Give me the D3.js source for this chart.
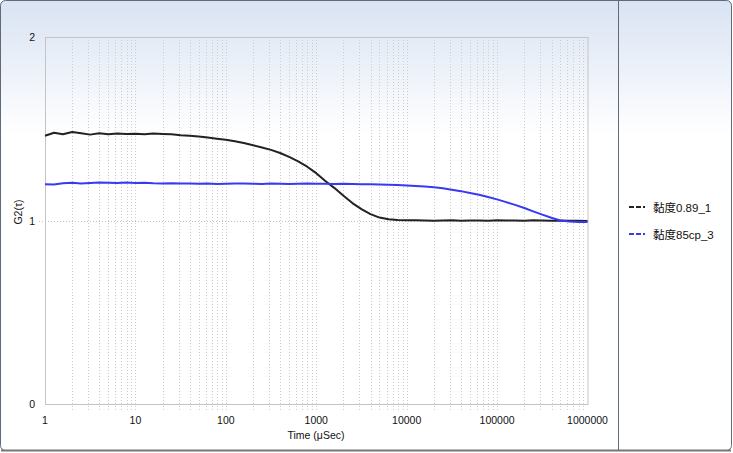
<!DOCTYPE html>
<html><head><meta charset="utf-8">
<script src="https://cdn.jsdelivr.net/npm/d3@7"></script>
<style>body{margin:0;background:#fff;}svg{display:block;}</style>
</head><body><svg id="c" width="733" height="453"></svg>
<script>
const times = [1,1.26,1.58,2,2.51,3.16,3.98,5.01,6.31,7.94,
10,12.6,15.8,20,25.1,31.6,39.8,50.1,63.1,79.4,
100,126,158,200,251,316,398,501,631,794,
1000,1260,1580,2000,2510,3160,3980,5010,6310,7940,
10000,12600,15800,20000,25100,31600,39800,50100,63100,79400,
100000,126000,158000,200000,251000,316000,398000,501000,631000,794000,
1000000];
const series1 = [1.462,1.478,1.470,1.482,1.475,1.468,1.476,1.470,1.474,1.471,
1.473,1.470,1.474,1.472,1.470,1.465,1.462,1.458,1.452,1.446,
1.440,1.432,1.422,1.410,1.398,1.385,1.368,1.347,1.322,1.293,
1.258,1.215,1.178,1.135,1.095,1.062,1.035,1.016,1.007,1.003,
1.001,1.001,1.000,0.999,1.000,1.001,0.999,1.000,1.000,0.998,
1.001,1.000,1.000,0.999,1.001,1.000,0.999,1.000,0.999,0.998,
0.997];
const series2 = [1.198,1.196,1.203,1.206,1.202,1.205,1.207,1.206,1.204,1.207,
1.205,1.206,1.203,1.202,1.203,1.201,1.202,1.200,1.201,1.199,
1.200,1.202,1.201,1.200,1.199,1.201,1.200,1.199,1.200,1.201,
1.200,1.200,1.199,1.200,1.199,1.198,1.197,1.196,1.195,1.193,
1.191,1.188,1.185,1.181,1.176,1.168,1.160,1.150,1.140,1.128,
1.115,1.100,1.085,1.068,1.050,1.032,1.015,1.000,0.994,0.992,
0.992];
const seriesNames = ["黏度0.89_1","黏度85cp_3"];
const seriesColors = ["#222222","#3838f5"];
const xTicks = [1,10,100,1000,10000,100000,1000000];
const yTicks = [0,1,2];

const svg = d3.select("#c");
const defs = svg.append("defs");
const g = defs.append("linearGradient").attr("id","bg").attr("x1",0).attr("y1",0).attr("x2",0).attr("y2",1);
g.append("stop").attr("offset","0").attr("stop-color","#d9e3f3");
g.append("stop").attr("offset","0.3").attr("stop-color","#ffffff");
g.append("stop").attr("offset","1").attr("stop-color","#ffffff");

svg.append("rect").attr("x",0.5).attr("y",0.5).attr("width",731).attr("height",450)
  .attr("rx",5).attr("fill","url(#bg)").attr("stroke","#5d6b7a").attr("stroke-width",1);
svg.append("line").attr("x1",1).attr("x2",731).attr("y1",450.5).attr("y2",450.5).attr("stroke","#777").attr("stroke-width",2);
svg.append("line").attr("x1",618.5).attr("x2",618.5).attr("y1",1).attr("y2",450).attr("stroke","#5d6b7a");

const L=45, R=587.5, T=37, B=404;
const x = d3.scaleLog().domain([1,1e6]).range([L,R]);
const y = d3.scaleLinear().domain([0,2]).range([B,T]);

// vertical grid (minor + decades)
const gridX = [];
for (let d=1; d<1e6; d*=10) for (let k=2; k<=10; k++) gridX.push(d*k);
svg.append("g").selectAll("line").data(gridX.filter(v=>v<1e6)).join("line")
  .attr("x1",d=>Math.round(x(d))+0.5).attr("x2",d=>Math.round(x(d))+0.5)
  .attr("y1",T).attr("y2",B+6)
  .attr("stroke","#cccccc").attr("stroke-dasharray","1,2");
// horizontal grid at 1
svg.append("line").attr("x1",L-6).attr("x2",R).attr("y1",Math.round(y(1))+0.5).attr("y2",Math.round(y(1))+0.5)
  .attr("stroke","#c2c2c2").attr("stroke-dasharray","1,2");
// plot frame
svg.append("rect").attr("x",L+0.5).attr("y",T+0.5).attr("width",R-L).attr("height",B-T)
  .attr("fill","none").attr("stroke","#c4c4c4");

// axes labels
const font = "'Liberation Sans', Arial, sans-serif";
svg.append("g").selectAll("text").data(xTicks).join("text")
  .attr("x",d=>x(d)).attr("y",424).attr("text-anchor","middle")
  .attr("font-family",font).attr("font-size","10.5px").attr("fill","#111").text(d=>d);
svg.append("g").selectAll("text").data(yTicks).join("text")
  .attr("x",35).attr("y",d=>y(d)+4).attr("text-anchor","end")
  .attr("font-family",font).attr("font-size","10.5px").attr("fill","#111").text(d=>d);
svg.append("text").attr("x",316).attr("y",439).attr("text-anchor","middle")
  .attr("font-family",font).attr("font-size","10.5px").attr("fill","#111").text("Time (μSec)");
svg.append("text").attr("transform","translate(22,212) rotate(-90)").attr("text-anchor","middle")
  .attr("font-family",font).attr("font-size","10.5px").attr("fill","#111").text("G2(τ)");

// lines
const line = d3.line().x(d=>x(d[0])).y(d=>y(d[1])).curve(d3.curveLinear);
[series1, series2].forEach((s,i)=>{
  svg.append("path").datum(times.map((t,j)=>[t,s[j]]))
    .attr("d",line).attr("fill","none").attr("stroke",seriesColors[i]).attr("stroke-width",2)
    .attr("stroke-linejoin","round");
});
// legend
const ly = [207,234];
seriesNames.forEach((n,i)=>{
  svg.append("line").attr("x1",629).attr("x2",648).attr("y1",ly[i]).attr("y2",ly[i])
    .attr("stroke",seriesColors[i]).attr("stroke-width",2).attr("stroke-dasharray","5,2,5,2,2,3");
  svg.append("text").attr("x",653).attr("y",ly[i]+4.5)
    .attr("font-family","'Liberation Sans','Noto Sans CJK SC',sans-serif").attr("font-size","11.5px")
    .attr("fill","#111").text(n);
});
</script></body></html>
